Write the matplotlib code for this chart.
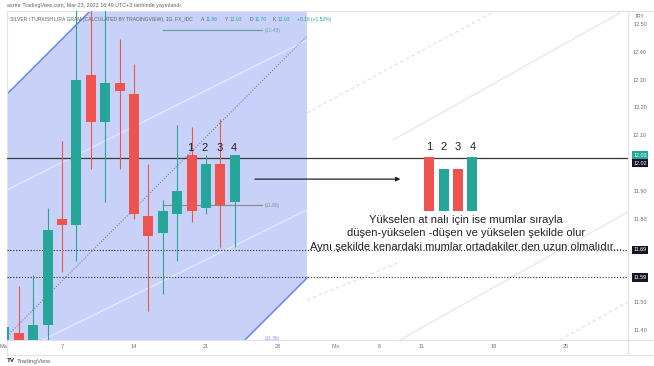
import matplotlib
matplotlib.use("Agg")
import matplotlib.pyplot as plt
import matplotlib.transforms as mtrans
from matplotlib.lines import Line2D

plt.rcParams['font.family'] = ['Liberation Sans', 'DejaVu Sans']

# ---------------- data ----------------
days = ["Mar 1", "Mar 2", "Mar 3", "Mar 4", "Mar 7", "Mar 8", "Mar 9", "Mar 10", "Mar 11",
        "Mar 14", "Mar 15", "Mar 16", "Mar 17", "Mar 18", "Mar 21", "Mar 22", "Mar 23"]
opens  = [11.30, 11.39, 11.33, 11.42, 11.80, 11.78, 12.32, 12.15, 12.29,
          12.25, 11.81, 11.75, 11.82, 12.03, 11.84, 12.00, 11.86]
highs  = [11.42, 11.56, 11.60, 11.84, 12.08, 12.60, 12.62, 12.60, 12.45,
          12.36, 12.00, 11.87, 12.14, 12.13, 12.03, 12.16, 12.03]
lows   = [11.28, 11.28, 11.30, 11.33, 11.61, 11.65, 11.98, 11.86, 11.98,
          11.80, 11.47, 11.53, 11.65, 11.79, 11.82, 11.70, 11.70]
closes = [11.41, 11.33, 11.42, 11.76, 11.78, 12.30, 12.15, 12.29, 12.26,
          11.82, 11.74, 11.83, 11.90, 11.83, 12.00, 11.85, 12.03]

time_tick_pos = [0, 4, 9, 14, 19, 23, 26, 29, 34, 39]
time_tick_lab = ["Mar", "7", "14", "21", "28", "Nis", "6", "11", "18", "25"]
price_ticks = [12.50, 12.40, 12.30, 12.20, 12.10, 11.90, 11.80, 11.50, 11.40]

# drawing objects (bar index, price)
channel_x = [-1.0, 21.01]
channel_upper = [12.189, 13.329]
channel_lower = [10.448, 11.588]
channel_mid = [11.3185, 12.4585]

last_price = 12.03
hline_price = 12.02
dotted_prices = [11.69, 11.59]
level_1185 = ([11.0, 17.9], 11.85)
level_1248 = ([11.0, 17.9], 12.48)
arrow_x = [17.4, 27.5]
arrow_y = 11.944

pattern_x = [29.5, 30.5, 31.5, 32.5]
pattern_bottom = 11.829
pattern_top = [12.024, 11.98, 11.98, 12.024]
pattern_up = [False, True, False, True]

faint_in = [((2.68, 11.365), (21.01, 11.833)), ((0.18, 11.905), (21.01, 12.444))]
faint_out_solid = [((26.99, 12.085), (42.75, 12.542)), ((27.47, 11.365), (43.3, 11.826))]
faint_out_dash = [((21.01, 12.182), (33.93, 12.545)), ((21.01, 11.509), (27.47, 11.646)),
                  ((38.58, 11.365), (43.3, 11.502))]

note_lines = ["Yükselen at nalı için ise mumlar sırayla",
              "düşen-yükselen -düşen ve yükselen şekilde olur",
              "Aynı şekilde kenardaki mumlar ortadakiler den uzun olmalıdır..."]
note_baselines = [11.786, 11.738, 11.689]
note_x = 32.05

UP = "#26a69a"
DN = "#ef5350"
GRID = "#e0e3eb"
AX_TXT = "#6a6d78"

# ---------------- figure ----------------
W, H = 654, 366
fig = plt.figure(figsize=(W / 100, H / 100), dpi=100)
fig.patch.set_facecolor("white")
L, R, T, B = 7, 628, 11, 340
ax = fig.add_axes([L / W, 1 - B / H, (R - L) / W, (B - T) / H])
ax.set_xlim(0.1806, 43.306)
ax.set_ylim(11.365, 12.549)
ax.set_xticks([])
ax.set_yticks([])
for s in ax.spines.values():
    s.set_color(GRID)
    s.set_linewidth(0.8)

# faint background lines
for (p0, p1) in faint_out_solid:
    ax.plot([p0[0], p1[0]], [p0[1], p1[1]], color="#e6e6e6", lw=0.9, zorder=0.5)
for (p0, p1) in faint_out_dash:
    ax.plot([p0[0], p1[0]], [p0[1], p1[1]], color="#e3e3e3", lw=0.9, ls=(0, (3, 2)), zorder=0.5)

# channel
ax.fill_between(channel_x, channel_lower, channel_upper, color="#c8d2f9", lw=0, zorder=1)
ax.plot(channel_x, channel_upper, color="#5b7fe6", lw=1.0, zorder=2)
ax.plot(channel_x, channel_lower, color="#5b7fe6", lw=1.0, zorder=2)
ax.plot(channel_x, channel_mid, color="#5b7fe6", lw=0.8, ls=(0, (1, 1.5)), zorder=2)
for (p0, p1) in faint_in:
    ax.plot([p0[0], p1[0]], [p0[1], p1[1]], color="#e4e9fc", lw=0.9, zorder=1.5)

# horizontal levels
ax.axhline(hline_price, color="#3a3a3a", lw=0.9, zorder=3)
for p in dotted_prices:
    ax.axhline(p, color="#2a2a2a", lw=0.8, ls=(0, (1, 1.6)), zorder=3)
ax.plot(level_1185[0], [level_1185[1]] * 2, color="#8c8c8c", lw=0.9, zorder=3)
ax.text(level_1185[0][1] + 0.2, level_1185[1], "(11.85)", fontsize=3.6, color="#8c8c8c",
        va="center", ha="left", zorder=3)
ax.plot(level_1248[0], [level_1248[1]] * 2, color="#6a9a9c", lw=0.9, zorder=3)
ax.text(level_1248[0][1] + 0.2, level_1248[1], "(12.48)", fontsize=3.6, color="#7a9ea0",
        va="center", ha="left", zorder=3)
ax.text(18.1, 11.372, "(11.36)", fontsize=3.6, color="#7f9be8", va="center", ha="left", zorder=3)

# candles
width = 0.7
for i in range(len(days)):
    o, h, l, c = opens[i], highs[i], lows[i], closes[i]
    col = UP if c >= o else DN
    ax.vlines(i, l, h, color=col, lw=0.8, zorder=4)
    ax.bar(i, abs(c - o), bottom=min(o, c), width=width, color=col, lw=0, zorder=5)

# numbers over candles
for k, i in enumerate(range(13, 17)):
    ax.text(i - 0.08, 12.056, str(k + 1), fontsize=8, color="#222", ha="center", va="center", zorder=6)

# arrow
ax.annotate("", xy=(arrow_x[1], arrow_y), xytext=(arrow_x[0], arrow_y),
            arrowprops=dict(arrowstyle="-|>", color="#222", lw=0.9, mutation_scale=6,
                            shrinkA=0, shrinkB=0), zorder=6)

# pattern illustration
for x, top, up in zip(pattern_x, pattern_top, pattern_up):
    ax.bar(x, top - pattern_bottom, bottom=pattern_bottom, width=width,
           color=UP if up else DN, lw=0, zorder=5)
for k, x in enumerate(pattern_x):
    ax.text(x, 12.06, str(k + 1), fontsize=8, color="#222", ha="center", va="center", zorder=6)

for txt, yb in zip(note_lines, note_baselines):
    ax.text(note_x, yb, txt, fontsize=8, color="#222", ha="center", va="baseline", zorder=6)

# header inside the chart
HF = 3.6
ax.text(0.005, 0.983, "SILVER / TURKISH LIRA GRAM (CALCULATED BY TRADINGVIEW), 1G, FX_IDC",
        transform=ax.transAxes, fontsize=HF, color="#5d606b", ha="left", va="top", zorder=7)
hdr = [("A", "11.86", 0.312), ("Y", "12.03", 0.351), ("D", "11.70", 0.390), ("K", "12.03", 0.428)]
for lab, val, xx in hdr:
    ax.text(xx, 0.983, lab, transform=ax.transAxes, fontsize=HF, color="#5d606b", ha="left", va="top", zorder=7)
    ax.text(xx + 0.008, 0.983, val, transform=ax.transAxes, fontsize=HF, color=UP, ha="left", va="top", zorder=7)
ax.text(0.467, 0.983, "+0.18 (+1.52%)", transform=ax.transAxes, fontsize=HF, color=UP,
        ha="left", va="top", zorder=7)

# price axis
tr_y = mtrans.blended_transform_factory(ax.transAxes, ax.transData)
xlab = (640 - L) / (R - L)
for p in price_ticks:
    ax.text(xlab, p, f"{p:.2f}", transform=tr_y, fontsize=4.0, color=AX_TXT,
            ha="center", va="center", clip_on=False)
ax.text(xlab, 1.0 - 5 / (B - T), "TRY", transform=ax.transAxes, fontsize=3.6, color=AX_TXT,
        ha="center", va="center", clip_on=False)
boxes = [("12.03", last_price, UP, 0.0), ("12.02", hline_price, "#131722", -3.8),
         ("11.69", dotted_prices[0], "#131722", 0.0), ("11.59", dotted_prices[1], "#131722", 0.0)]
for txt, val, colr, dy in boxes:
    ax.annotate(txt, xy=(xlab, val), xycoords=tr_y, xytext=(0, dy), textcoords="offset points",
                fontsize=3.9, color="white", ha="center", va="center", annotation_clip=False,
                bbox=dict(boxstyle="square,pad=0.3", fc=colr, ec="none"))

# time axis
tr_x = mtrans.blended_transform_factory(ax.transData, ax.transAxes)
ylab = -7 / (B - T)
for pos, lab in zip(time_tick_pos, time_tick_lab):
    ax.text(pos, ylab, lab, transform=tr_x, fontsize=4.0, color=AX_TXT,
            ha="center", va="center", clip_on=False)

# frame lines of the screenshot
def fline(x0, y0, x1, y1):
    fig.add_artist(Line2D([x0 / W, x1 / W], [1 - y0 / H, 1 - y1 / H], color=GRID, lw=0.8))

fline(R, T, R, 355)
fline(L, 355, W, 355)
fline(R, T, W, T)
fline(R, B, W, B)
fline(L, B, L, 355)

# top caption and logo
fig.text(7 / W, 1 - 5 / H, "asrmr TradingView.com, Mar 23, 2022 16:49 UTC+3 tarihinde yayınlandı",
         fontsize=3.9, color="#5d606b", ha="left", va="center")
fig.text(7 / W, 1 - 361 / H, "TV", fontsize=4.5, color="#131722", ha="left", va="center", weight="bold")
fig.text(17 / W, 1 - 361 / H, "TradingView", fontsize=4.5, color="#5d606b", ha="left", va="center")

fig.savefig("out.png", dpi=100, facecolor="white")
